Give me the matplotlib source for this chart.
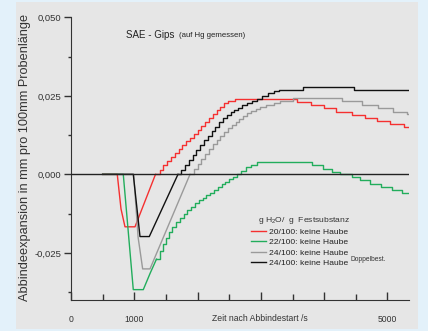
import matplotlib.pyplot as plt
from matplotlib.patches import Rectangle
from matplotlib.ticker import FixedLocator, MultipleLocator, FixedFormatter

plt.rcParams['font.family'] = ['Liberation Sans', 'DejaVu Sans']
plt.rcParams['mathtext.default'] = 'regular'

# Zeit [s] / Abbindeexpansion [mm pro 100 mm]
# Abfall (linear) und Anstieg/Plateau (Treppen) getrennt
red_dip_t = [500, 731, 790, 853, 1011, 1335]
red_dip_y = [0.0, 0.0, -0.0110, -0.0167, -0.0167, 0.0]
red_t = [1335, 1400, 1460, 1520, 1580, 1640, 1700, 1760, 1820, 1880, 1940, 2000,
         2060, 2120, 2180, 2240, 2300, 2360, 2420, 2480, 2591, 3565, 3786, 3992,
         4187, 4439, 4645, 4839, 5039, 5265, 5340]
red_y = [0.0, 0.0015, 0.0030, 0.0043, 0.0056, 0.0069, 0.0082, 0.0095, 0.0106, 0.0117,
         0.0129, 0.0141, 0.0155, 0.0168, 0.0180, 0.0192, 0.0204, 0.0216, 0.0226,
         0.0233, 0.0240, 0.0230, 0.0221, 0.0211, 0.0198, 0.0190, 0.0179, 0.0170,
         0.0161, 0.0151, 0.0151]

green_dip_t = [500, 826, 984, 1142, 1250, 1350]
green_dip_y = [0.0, 0.0, -0.0367, -0.0367, -0.0315, -0.0270]
green_t = [1350, 1400, 1450, 1500, 1550, 1600, 1660, 1720, 1780, 1840, 1900, 1960,
           2020, 2080, 2140, 2200, 2260, 2320, 2380, 2440, 2500, 2560, 2620, 2690,
           2770, 2850, 2933, 3812, 3976, 4118, 4250, 4434, 4565, 4724, 4897, 5066,
           5234, 5340]
green_y = [-0.0270, -0.0245, -0.0222, -0.0202, -0.0185, -0.0168, -0.0152, -0.0138,
           -0.0125, -0.0114, -0.0103, -0.0092, -0.0082, -0.0074, -0.0066, -0.0058,
           -0.0050, -0.0041, -0.0032, -0.0023, -0.0015, -0.0007, 0.0002, 0.0012,
           0.0022, 0.0031, 0.0039, 0.0031, 0.0018, 0.0008, 0.0, -0.0010, -0.0019,
           -0.0030, -0.0040, -0.0051, -0.0059, -0.0059]

grey_dip_t = [500, 990, 1060, 1132, 1248, 1880]
grey_dip_y = [0.0, 0.0, -0.0200, -0.0301, -0.0301, 0.0]
grey_t = [1880, 1940, 2000, 2060, 2120, 2180, 2240, 2300, 2360, 2420, 2480, 2540,
          2600, 2660, 2720, 2780, 2850, 2920, 2986, 3080, 3200, 3302, 3512, 4276,
          4592, 4845, 5082, 5313, 5340]
grey_y = [0.0, 0.0016, 0.0033, 0.0050, 0.0066, 0.0081, 0.0096, 0.0110, 0.0123,
          0.0135, 0.0146, 0.0156, 0.0166, 0.0176, 0.0185, 0.0194, 0.0202, 0.0209,
          0.0216, 0.0222, 0.0228, 0.0232, 0.0244, 0.0232, 0.0222, 0.0210, 0.0199,
          0.0191, 0.0191]

black_dip_t = [500, 984, 1090, 1237, 1690]
black_dip_y = [0.0, 0.0, -0.0198, -0.0198, 0.0]
black_t = [1690, 1740, 1800, 1860, 1920, 1980, 2040, 2100, 2160, 2220, 2280, 2340,
           2400, 2460, 2520, 2580, 2640, 2700, 2780, 2860, 2933, 3020, 3117, 3200,
           3286, 3670, 4470, 5340]
black_y = [0.0, 0.0014, 0.0030, 0.0046, 0.0062, 0.0078, 0.0094, 0.0108, 0.0122,
           0.0137, 0.0152, 0.0166, 0.0178, 0.0189, 0.0198, 0.0206, 0.0212, 0.0220,
           0.0228, 0.0234, 0.0240, 0.0250, 0.0259, 0.0264, 0.0269, 0.0279, 0.0269,
           0.0269]

labels = ['20/100: keine Haube', '22/100: keine Haube',
          '24/100: keine Haube', '24/100: keine Haube']
colors = ['#f53030', '#22ad5c', '#9a9a9a', '#111111']

fig = plt.figure(figsize=(4.28, 3.31), dpi=100, facecolor='#e3f1fa')
fig.add_artist(Rectangle((16 / 428, 2 / 331), 402 / 428, 327 / 331,
                         transform=fig.transFigure, facecolor='#e6e6e6',
                         edgecolor='none', zorder=0))
ax = fig.add_axes([71 / 428, 31 / 331, 338 / 428, 282.7 / 331])
ax.set_facecolor('none')

series = [(red_dip_t, red_dip_y, red_t, red_y),
          (green_dip_t, green_dip_y, green_t, green_y),
          (grey_dip_t, grey_dip_y, grey_t, grey_y),
          (black_dip_t, black_dip_y, black_t, black_y)]
handles = []
for (dt, dy, st, sy), c, lab in zip(series, colors, labels):
    ax.plot(dt, dy, color=c, lw=1.0)
    h, = ax.plot(st, sy, color=c, lw=1.0, drawstyle='steps-post', label=lab)
    handles.append(h)

ax.axhline(0, color='#222222', lw=1.0, zorder=5)

ax.set_xlim(0, 5340)
ax.set_ylim(-0.040, 0.050)
for s in ['top', 'right']:
    ax.spines[s].set_visible(False)
ax.spines['left'].set_color('#333333')
ax.spines['bottom'].set_color('#333333')

ax.xaxis.set_major_locator(FixedLocator([0, 1000, 2000, 3000, 4000, 5000]))
ax.xaxis.set_major_formatter(FixedFormatter(['0', '1000', '', '', '', '5000']))
ax.xaxis.set_minor_locator(MultipleLocator(500))
ax.tick_params(axis='x', which='major', direction='in', length=6, width=1,
               color='#333333', labelsize=6.2, labelcolor='#333333', pad=11)
ax.tick_params(axis='x', which='minor', direction='in', length=4, width=1, color='#333333')

ax.yaxis.set_major_locator(FixedLocator([-0.025, 0.0, 0.025, 0.050]))
ax.yaxis.set_major_formatter(FixedFormatter(['-0,025', '0,000', '0,025', '0,050']))
ax.yaxis.set_minor_locator(FixedLocator([-0.0375, -0.0125, 0.0125, 0.0375]))
ax.tick_params(axis='y', which='major', direction='out', length=5, width=1,
               color='#333333', labelsize=6.8, labelcolor='#333333', pad=2)
ax.tick_params(axis='y', which='minor', direction='out', length=2, width=1, color='#333333')

ax.text(0.56, -0.066, 'Zeit nach Abbindestart /s', transform=ax.transAxes,
        fontsize=6.2, color='#333333', ha='center', va='center')
fig.text(25 / 428, 1 - 157 / 331, 'Abbindeexpansion in mm pro 100mm Probenlänge',
         rotation=90, fontsize=9.2, color='#333333', ha='center', va='center')

ax.text(869, 0.0444, 'SAE - Gips', fontsize=7, color='#222222', va='center')
ax.text(1700, 0.0442, '(auf Hg gemessen)', fontsize=5.6, color='#222222', va='center')

# Legendentitel separat, damit der Abstand zu den Einträgen stimmt
ax.text(2950, -0.0147, 'g H$_2$O/  g  Festsubstanz', fontsize=6.1,
        color='#333333', va='center')
leg = ax.legend(handles=handles, loc='upper left', bbox_to_anchor=(0.5325, 0.256),
                frameon=False, fontsize=6.1, handlelength=1.75, handletextpad=0.35,
                labelspacing=0.3, borderpad=0, borderaxespad=0)
for t in leg.get_texts():
    t.set_color('#222222')
ax.text(4420, -0.0271, 'Doppelbest.', fontsize=4.8, color='#333333', va='center')

fig.savefig('out.png', dpi=100, facecolor=fig.get_facecolor())
